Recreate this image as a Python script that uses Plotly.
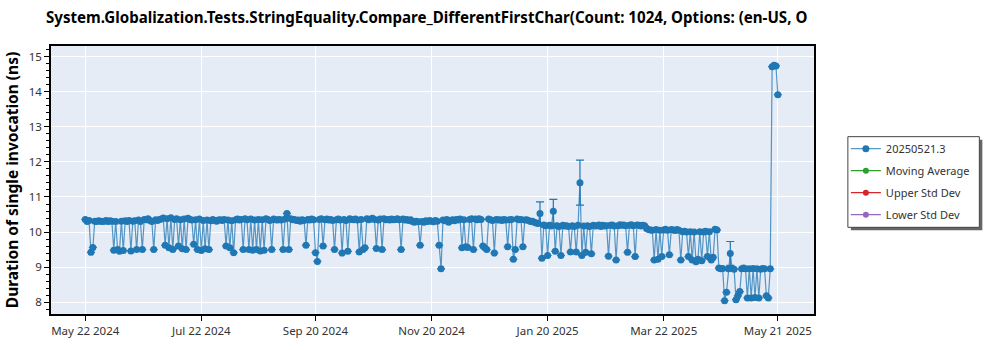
import pandas as pd
import plotly.graph_objects as go

# ---------------- data ----------------
start_date = "2024-05-22"
end_date = "2025-05-21"

may_2024 = [10.36, 10.30, 10.33, 9.42, 9.56, 10.31, 10.30, 10.32, 10.31, 10.30]
jun_2024 = [10.31, 10.33, 10.30, 10.32, 10.31, 9.48, 10.30, 9.50, 9.45, 10.31,
            9.47, 10.32, 10.30, 10.33, 9.46, 10.31, 10.32, 9.50, 10.34, 10.30,
            9.50, 10.36, 10.35, 10.38, 10.33, 10.30, 9.50, 10.35, 10.33, 10.36]
jul_2024 = [10.37, 10.40, 9.62, 10.38, 9.55, 10.41, 9.50, 10.36, 10.38, 9.60,
            10.35, 9.52, 10.37, 9.50, 10.39, 10.36, 10.34, 9.65, 10.35, 9.50,
            10.37, 9.47, 10.33, 9.52, 10.34, 9.50, 10.32, 10.36, 10.33, 10.31, 10.34]
aug_2024 = [10.35, 10.33, 10.36, 9.60, 10.34, 9.55, 10.32, 9.41, 10.35, 10.37,
            10.34, 10.36, 9.50, 10.38, 10.35, 9.50, 10.37, 9.48, 10.34, 9.50,
            10.36, 9.46, 10.35, 9.48, 10.38, 10.36, 10.33, 9.50, 10.37, 10.35, 10.34]
sep_2024 = [10.36, 10.34, 9.50, 10.37, 10.53, 9.50, 10.38, 10.35, 10.36, 10.33,
            10.34, 10.31, 10.35, 10.33, 9.62, 10.36, 10.34, 10.37, 10.35, 9.41,
            9.16, 10.36, 10.38, 9.60, 10.35, 10.37, 10.34, 10.36, 10.33, 9.50]
oct_2024 = [10.35, 10.37, 10.34, 9.40, 10.36, 10.33, 9.45, 10.38, 10.36, 10.35,
            10.37, 10.34, 9.43, 10.36, 9.50, 9.55, 10.38, 10.35, 10.37, 10.39,
            10.36, 9.53, 10.34, 10.37, 9.50, 10.38, 10.35, 10.36, 10.34, 10.37, 10.35]
nov_2024 = [10.36, 10.38, 10.35, 9.50, 10.37, 10.34, 10.36, 10.33, 10.35, 10.30,
            10.28, 10.31, 10.29, 9.62, 10.30, 10.28, 10.32, 10.30, 10.33, 10.31,
            10.29, 10.33, 10.31, 9.62, 8.95, 10.34, 10.32, 10.36, 10.28, 10.33]
dec_2024 = [10.35, 10.32, 10.36, 10.34, 10.37, 9.55, 10.35, 9.58, 9.56, 10.36,
            10.38, 9.50, 10.37, 10.35, 10.38, 10.36, 9.60, 9.55, 9.50, 10.37,
            10.35, 10.33, 9.40, 10.36, 10.34, 10.35, 10.33, 10.36, 10.34, 9.58, 10.35]
jan_2025 = [10.36, 9.22, 9.50, 10.37, 10.35, 10.36, 9.58, 10.34, 10.35, 10.33,
            10.30, 10.31, 10.28, 10.26, 10.24, 10.53, 9.25, 10.20, 10.18, 9.33,
            10.19, 10.17, 10.59, 9.45, 10.18, 10.16, 9.33, 10.19, 10.17, 10.18, 10.16]
feb_2025 = [9.43, 10.18, 10.16, 9.43, 10.19, 11.41, 9.33, 10.17, 9.42, 10.18,
            10.16, 9.38, 10.19, 10.17, 10.18, 10.20, 10.16, 10.19, 10.17, 10.18,
            9.31, 10.19, 10.20, 10.17, 9.20, 10.18, 10.21, 10.19]
mar_2025 = [10.20, 10.18, 9.42, 10.19, 10.21, 10.18, 9.30, 10.20, 10.19, 10.17,
            10.19, 10.18, 10.10, 10.07, 10.06, 10.05, 9.20, 10.07, 9.22, 10.05,
            9.30, 10.06, 10.08, 10.05, 9.35, 10.07, 10.06, 10.04, 10.07, 10.05, 9.20]
apr_2025 = [10.01, 10.02, 10.00, 9.30, 10.01, 9.20, 10.00, 9.15, 9.22, 10.01,
            9.18, 10.00, 10.02, 9.30, 10.01, 9.20, 9.28, 10.08, 10.06, 8.97,
            8.95, 8.96, 8.04, 8.28, 8.95, 9.39, 8.96, 8.94, 8.07, 8.18]
may_2025 = [8.30, 8.95, 8.97, 8.95, 8.12, 8.95, 8.12, 8.96, 8.13, 8.95,
            8.12, 8.94, 8.96, 8.95, 8.18, 8.12, 8.95, 14.72, 14.76, 14.74, 13.92]

durations = (may_2024 + jun_2024 + jul_2024 + aug_2024 + sep_2024 + oct_2024 +
             nov_2024 + dec_2024 + jan_2025 + feb_2025 + mar_2025 + apr_2025 + may_2025)
dates = pd.date_range(start_date, end_date, freq="D")
assert len(dates) == len(durations)

# points that carry a (symmetric) error bar
err_dates = ["2025-01-16", "2025-01-23", "2025-02-06", "2025-04-26"]
err_sizes = [0.33, 0.34, 0.64, 0.34]

tick_dates = ["2024-05-22", "2024-07-22", "2024-09-20", "2024-11-20",
              "2025-01-20", "2025-03-22", "2025-05-21"]
tick_labels = ["May 22 2024", "Jul 22 2024", "Sep 20 2024", "Nov 20 2024",
               "Jan 20 2025", "Mar 22 2025", "May 21 2025"]

series_name = "20250521.3"
legend_names = ["Moving Average", "Upper Std Dev", "Lower Std Dev"]
legend_colors = ["#2ca02c", "#d62728", "#9467bd"]

title_text = ("System.Globalization.Tests.StringEquality.Compare_DifferentFirstChar"
              "(Count: 1024, Options: (en-US, O")
y_title = "Duration of single invocation (ns)"

# ---------------- figure ----------------
err_map = dict(zip(pd.to_datetime(err_dates), err_sizes))
err_array = [err_map.get(d, None) for d in dates]

FONT = "Noto Sans, Open Sans, sans-serif"
BLUE = "#1f77b4"

fig = go.Figure()
fig.add_trace(go.Scatter(
    x=dates, y=durations, name=series_name, mode="lines+markers",
    line=dict(color="rgba(31,119,180,0.75)", width=1.2),
    marker=dict(color=BLUE, size=7),
    error_y=dict(type="data", array=err_array, symmetric=True,
                 color=BLUE, thickness=1.2, width=4),
    legendgroup="a",
))
for i, (nm, col) in enumerate(zip(legend_names, legend_colors)):
    fig.add_trace(go.Scatter(
        x=[None], y=[None], name=nm, mode="lines+markers",
        line=dict(color=col, width=1.2), marker=dict(color=col, size=6),
        legendgroup="g%d" % i,
    ))

L, R, T, B = 48, 186, 46, 35
W, H = 1000, 350
pw, ph = W - L - R, H - T - B

def px_x(px):
    return (px - L) / pw

def px_y(py):
    return (H - B - py) / ph

# legend frame with drop shadow (legend itself is drawn transparent on top)
fig.add_shape(type="rect", xref="paper", yref="paper",
              x0=px_x(851), x1=px_x(983), y0=px_y(231), y1=px_y(140),
              fillcolor="#666666", line=dict(width=0))
fig.add_shape(type="rect", xref="paper", yref="paper",
              x0=px_x(848), x1=px_x(980), y0=px_y(228), y1=px_y(137),
              fillcolor="white", line=dict(color="#444", width=1))

fig.update_layout(
    width=W, height=H,
    margin=dict(l=L, r=R, t=T, b=B),
    paper_bgcolor="white", plot_bgcolor="#E5ECF6",
    font=dict(family=FONT, size=12, color="#333"),
    title=dict(text="<b>" + title_text + "</b>", x=46 / W, xref="container", xanchor="left",
               y=1 - 18 / H, yanchor="middle", yref="container",
               font=dict(family=FONT, size=15.1, color="black")),
    showlegend=True,
    legend=dict(x=px_x(846), y=px_y(134.5), xanchor="left", yanchor="top",
                bgcolor="rgba(0,0,0,0)", borderwidth=0,
                font=dict(family=FONT, size=11, color="#333"),
                tracegroupgap=3, itemwidth=30),
    xaxis=dict(
        range=["2024-05-04", "2025-06-09"],
        tickmode="array", tickvals=tick_dates, ticktext=tick_labels,
        showgrid=True, gridcolor="white", gridwidth=1,
        showline=True, linecolor="black", linewidth=1.5, mirror=True,
        ticks="outside", ticklen=5, tickcolor="black",
        tickfont=dict(family=FONT, size=11.5, color="#333"),
        zeroline=False,
    ),
    yaxis=dict(
        range=[7.66, 15.31], dtick=1, tick0=8,
        showgrid=True, gridcolor="white", gridwidth=1,
        showline=True, linecolor="black", linewidth=1.5, mirror=True,
        ticks="outside", ticklen=5, tickcolor="black",
        minor=dict(dtick=0.2, ticks="outside", ticklen=3, tickcolor="black", showgrid=False),
        tickfont=dict(family=FONT, size=11.5, color="#333"),
        title=dict(text="<b>" + y_title + "</b>", standoff=6,
                   font=dict(family=FONT, size=15.5, color="black")),
        zeroline=False,
    ),
)

fig.write_html("out.html")
